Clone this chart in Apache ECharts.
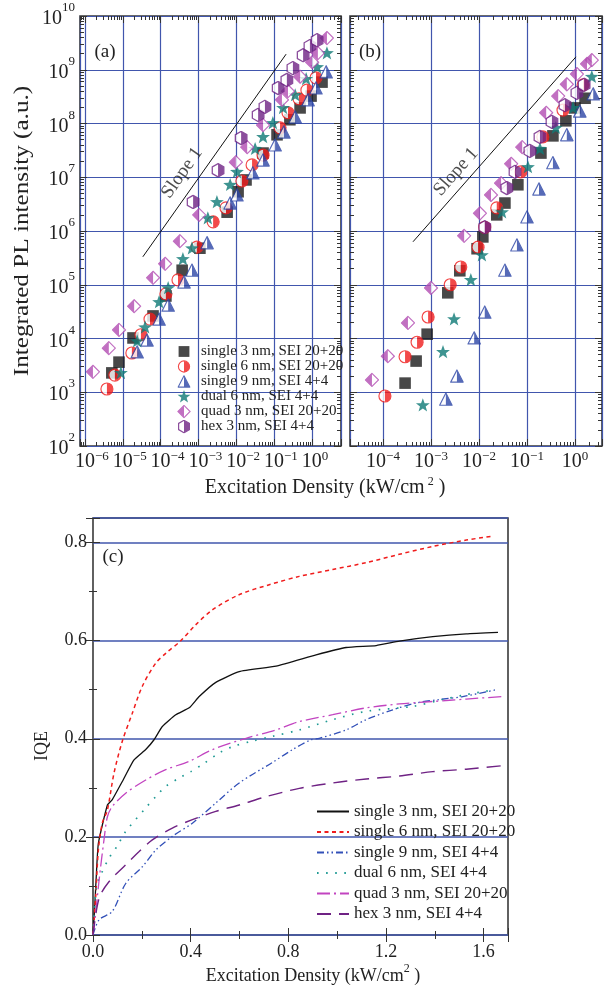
<!DOCTYPE html>
<html>
<head>
<meta charset="utf-8">
<script src="https://cdn.jsdelivr.net/npm/echarts@6/dist/echarts.min.js"></script>
<style>
  html, body { margin: 0; padding: 0; background: #fff; }
  #chart { width: 605px; height: 990px; }
</style>
</head>
<body>
<div id="chart"></div>
<script>
// values; panels (a)/(b) are stored as log10 exponents
const NAMES = ['single 3 nm, SEI 20+20', 'single 6 nm, SEI 20+20', 'single 9 nm, SEI 4+4',
  'dual 6 nm, SEI 4+4', 'quad 3 nm, SEI 20+20', 'hex 3 nm, SEI 4+4'];

// (a)
const aSingle3X = [-5.29, -5.10, -4.73, -4.20, -3.86, -3.43, -2.96, -2.24, -1.95, -1.74, -1.29, -0.92, -0.58, -0.31, -0.02, 0.27];
const aSingle3Y = [3.36, 3.56, 4.01, 4.42, 4.79, 5.27, 5.68, 6.35, 6.73, 6.95, 7.45, 7.79, 8.07, 8.29, 8.51, 8.77];
const aSingle6X = [-5.42, -5.21, -4.76, -4.52, -4.28, -3.86, -3.54, -3.04, -2.61, -2.27, -1.85, -1.58, -1.29, -0.84, -0.63, -0.34, -0.13, 0.11];
const aSingle6Y = [3.06, 3.32, 3.73, 4.07, 4.36, 4.83, 5.09, 5.70, 6.17, 6.43, 6.93, 7.23, 7.41, 7.92, 8.20, 8.46, 8.62, 8.85];
const aSingle9X = [-4.62, -4.36, -4.04, -3.80, -3.38, -3.17, -2.77, -2.16, -1.98, -1.56, -1.29, -0.97, -0.74, -0.44, -0.10, 0.11, 0.38];
const aSingle9Y = [3.75, 3.97, 4.36, 4.62, 5.05, 5.27, 5.78, 6.52, 6.67, 7.08, 7.32, 7.60, 7.84, 8.12, 8.44, 8.66, 8.96];
const aDual6X = [-5.05, -4.62, -4.41, -4.04, -3.80, -3.41, -3.17, -2.75, -2.51, -2.16, -1.98, -1.50, -1.29, -1.03, -0.76, -0.44, -0.15, 0.14, 0.40];
const aDual6Y = [3.36, 3.95, 4.21, 4.68, 4.94, 5.48, 5.68, 6.24, 6.54, 6.86, 7.10, 7.53, 7.75, 8.01, 8.29, 8.53, 8.83, 9.05, 9.31];
const aQuad3X = [-5.79, -5.37, -5.10, -4.70, -4.20, -3.88, -3.49, -2.98, -2.01, -1.71, -1.29, -0.79, -0.63, -0.31, 0.01, 0.16, 0.40];
const aQuad3Y = [3.38, 3.82, 4.16, 4.60, 5.13, 5.39, 5.81, 6.30, 7.28, 7.56, 7.97, 8.44, 8.60, 8.87, 9.14, 9.31, 9.59];
const aHex3X = [-3.14, -2.48, -1.87, -1.42, -1.24, -0.89, -0.66, -0.50, -0.23, -0.05, 0.14];
const aHex3Y = [6.54, 7.13, 7.73, 8.16, 8.31, 8.66, 8.81, 9.03, 9.27, 9.44, 9.55];
const aSlopeX = [-4.47, -0.68];
const aSlopeY = [5.52, 9.29];

// (b)
const bSingle3X = [-3.54, -3.31, -3.08, -2.65, -2.40, -2.04, -1.92, -1.63, -1.46, -1.19, -0.71, -0.46, -0.19, 0.00, 0.21];
const bSingle3Y = [3.17, 3.58, 4.08, 4.85, 5.26, 5.67, 5.89, 6.30, 6.52, 6.86, 7.45, 7.77, 8.05, 8.29, 8.47];
const bSingle6X = [-3.96, -3.54, -3.29, -3.06, -2.60, -2.38, -2.02, -1.88, -1.63, -1.13, -0.67, -0.25, 0.17];
const bSingle6Y = [2.93, 3.66, 3.93, 4.40, 5.00, 5.33, 5.70, 6.07, 6.43, 7.10, 7.75, 8.25, 8.72];
const bSingle9X = [-2.69, -2.46, -2.10, -1.88, -1.46, -1.21, -1.00, -0.75, -0.46, -0.17, 0.10, 0.38];
const bSingle9Y = [2.87, 3.30, 4.01, 4.49, 5.27, 5.74, 6.26, 6.78, 7.27, 7.79, 8.23, 8.55];
const bDual6X = [-3.17, -2.75, -2.52, -2.17, -1.94, -1.52, -0.98, -0.73, -0.40, -0.04, 0.35];
const bDual6Y = [2.76, 3.75, 4.36, 5.09, 5.55, 6.35, 7.19, 7.53, 7.92, 8.29, 8.87];
const bQuad3X = [-4.23, -3.90, -3.48, -3.00, -2.31, -1.98, -1.75, -1.54, -1.33, -1.10, -0.60, -0.35, -0.17, 0.04, 0.25, 0.35];
const bQuad3Y = [3.23, 3.67, 4.29, 4.94, 5.91, 6.33, 6.67, 6.89, 7.25, 7.56, 8.20, 8.51, 8.73, 8.92, 9.11, 9.18];
const bHex3X = [-1.88, -1.42, -1.25, -0.94, -0.73, -0.48, -0.21, 0.04, 0.19];
const bHex3Y = [6.07, 6.80, 7.10, 7.49, 7.75, 8.03, 8.34, 8.57, 8.72];
const bSlopeX = [-3.375, 0.02];
const bSlopeY = [5.80, 9.24];

// (c) IQE vs excitation density
const cSingle3X = [0, 0.007, 0.014, 0.022, 0.059, 0.079, 0.120, 0.168, 0.216, 0.250, 0.284, 0.339, 0.394, 0.435, 0.503, 0.599, 0.750, 0.914, 1.037, 1.160, 1.255, 1.392, 1.529, 1.659];
const cSingle3Y = [0, 0.058, 0.126, 0.187, 0.265, 0.276, 0.313, 0.357, 0.378, 0.398, 0.425, 0.449, 0.463, 0.486, 0.515, 0.537, 0.548, 0.571, 0.586, 0.590, 0.599, 0.608, 0.614, 0.617];
const cSingle6X = [0, 0.011, 0.022, 0.038, 0.059, 0.086, 0.120, 0.161, 0.202, 0.257, 0.300, 0.360, 0.420, 0.490, 0.600, 0.722, 0.845, 0.982, 1.119, 1.255, 1.392, 1.529, 1.638];
const cSingle6Y = [0, 0.078, 0.173, 0.228, 0.255, 0.330, 0.395, 0.452, 0.507, 0.554, 0.575, 0.600, 0.632, 0.663, 0.694, 0.714, 0.731, 0.745, 0.759, 0.776, 0.792, 0.805, 0.813];
const cSingle9X = [0, 0.025, 0.079, 0.134, 0.202, 0.257, 0.325, 0.407, 0.503, 0.599, 0.736, 0.818, 0.893, 0.927, 1.037, 1.119, 1.228, 1.324, 1.419, 1.515, 1.652];
const cSingle9Y = [0, 0.031, 0.048, 0.105, 0.139, 0.173, 0.201, 0.228, 0.269, 0.310, 0.352, 0.378, 0.398, 0.401, 0.418, 0.439, 0.459, 0.473, 0.480, 0.486, 0.500];
const cDual6X = [0, 0.014, 0.036, 0.066, 0.100, 0.134, 0.216, 0.257, 0.298, 0.353, 0.401, 0.455, 0.517, 0.572, 0.650, 0.736, 0.845, 0.982, 1.119, 1.310, 1.433, 1.529, 1.645];
const cDual6Y = [0, 0.099, 0.127, 0.157, 0.182, 0.211, 0.259, 0.282, 0.303, 0.320, 0.333, 0.350, 0.371, 0.384, 0.395, 0.405, 0.418, 0.439, 0.456, 0.466, 0.480, 0.490, 0.500];
const cQuad3X = [0, 0.011, 0.025, 0.045, 0.059, 0.079, 0.134, 0.216, 0.298, 0.394, 0.490, 0.627, 0.750, 0.845, 0.982, 1.119, 1.255, 1.392, 1.529, 1.679];
const cQuad3Y = [0, 0.045, 0.112, 0.194, 0.241, 0.262, 0.289, 0.316, 0.337, 0.354, 0.378, 0.401, 0.418, 0.435, 0.449, 0.463, 0.471, 0.476, 0.481, 0.486];
const cHex3X = [0, 0.025, 0.066, 0.134, 0.189, 0.243, 0.325, 0.407, 0.503, 0.599, 0.709, 0.845, 0.982, 1.119, 1.255, 1.392, 1.529, 1.673];
const cHex3Y = [0, 0.075, 0.109, 0.143, 0.170, 0.194, 0.218, 0.235, 0.252, 0.265, 0.282, 0.299, 0.310, 0.318, 0.324, 0.333, 0.338, 0.345];

const FONT = "'Liberation Serif', 'DejaVu Serif', serif";
const INK = '#222';
const FRAME = '#3a3a3a';
const GRID_BLUE = '#4156ad';

const RED = '#f01c1c', BLUE = '#2c45a6', TEAL = '#0f7a76', PINK = '#b24cb2', PURPLE = '#6f2284';

function svgSymbol(body) {
  const svg = "<svg xmlns='http://www.w3.org/2000/svg' width='28' height='28' viewBox='0 0 14 14'>" + body + '</svg>';
  return 'image://data:image/svg+xml;charset=utf-8,' + encodeURIComponent(svg);
}
function starPath(cx, cy, R, r) {
  let d = '';
  for (let i = 0; i < 10; i++) {
    const a = -Math.PI / 2 + i * Math.PI / 5, rad = i % 2 ? r : R;
    d += (i ? 'L' : 'M') + (cx + rad * Math.cos(a)).toFixed(2) + ' ' + (cy + rad * Math.sin(a)).toFixed(2);
  }
  return d + 'Z';
}
const SYMBOLS = [
  svgSymbol("<rect x='1.6' y='1.6' width='10.8' height='10.8' fill='#1b1b1b'/>"),
  svgSymbol("<circle cx='7' cy='7' r='5.6' fill='#fff' stroke='" + RED + "' stroke-width='1.1'/><path d='M7 1.4 A5.6 5.6 0 0 1 7 12.6 Z' fill='" + RED + "'/>"),
  svgSymbol("<path d='M7 1.2 L12.8 12.6 L1.2 12.6 Z' fill='#fff' stroke='" + BLUE + "' stroke-width='1.1' stroke-linejoin='round'/><path d='M7 1.2 L12.8 12.6 L7 12.6 Z' fill='" + BLUE + "'/>"),
  svgSymbol("<path d='" + starPath(7, 7.4, 6.8, 2.8) + "' fill='" + TEAL + "'/>"),
  svgSymbol("<path d='M7 0.9 L13.1 7 L7 13.1 L0.9 7 Z' fill='#fff' stroke='" + PINK + "' stroke-width='1.1'/><path d='M7 0.9 L0.9 7 L7 13.1 Z' fill='" + PINK + "'/>"),
  svgSymbol("<path d='M7 0.8 L12.4 3.9 L12.4 10.1 L7 13.2 L1.6 10.1 L1.6 3.9 Z' fill='#fff' stroke='" + PURPLE + "' stroke-width='1.2'/><path d='M7 0.8 L12.4 3.9 L12.4 10.1 L7 13.2 Z' fill='" + PURPLE + "'/>")
];

function logPairs(xs, ys) {
  return xs.map((x, i) => [Math.pow(10, x), Math.pow(10, ys[i])]);
}
function pairs(xs, ys) {
  return xs.map((x, i) => [x, ys[i]]);
}

function minorLogTicks(lo, hi) {
  const out = [];
  for (let e = Math.floor(lo); e < Math.ceil(hi); e++) {
    for (let d = 2; d <= 9; d++) {
      const v = d * Math.pow(10, e), l = Math.log10(v);
      if (l > lo && l < hi) out.push(v);
    }
  }
  return out;
}

// "10" sits low in a tall line box, the exponent hangs at its top;
// the taller the "10" box, the higher the exponent
function powRich(lineH) {
  return {
    b: { fontFamily: FONT, fontSize: 20, lineHeight: lineH, verticalAlign: 'bottom', color: INK },
    sup: { fontFamily: FONT, fontSize: 13, lineHeight: 13, verticalAlign: 'top', color: INK },
    pad: { fontFamily: FONT, fontSize: 13, lineHeight: 13, verticalAlign: 'top', color: 'rgba(0,0,0,0)' }
  };
}
function powLabel(centerBase) {
  return function (v) {
    const e = Math.log10(v), r = Math.round(e);
    if (Math.abs(e - r) > 1e-6) return '';
    const s = String(r).replace('-', '\u2212');
    return (centerBase ? '{pad|' + s + '}' : '') + '{b|10}{sup|' + s + '}';
  };
}

const TICK = { show: true, inside: true, length: 7, lineStyle: { color: '#333', width: 1 } };
const MINOR_TICK = { show: true, inside: true, length: 4, lineStyle: { color: '#333', width: 1 } };

function logAxis(grid, pos, lo, hi, extra) {
  return Object.assign({
    type: 'log', logBase: 10, gridIndex: grid, position: pos,
    min: Math.pow(10, lo), max: Math.pow(10, hi),
    axisLine: { show: false },
    axisTick: TICK,
    axisLabel: { show: false },
    splitLine: { show: false }
  }, extra || {});
}
function minorLogAxis(grid, pos, lo, hi) {
  return logAxis(grid, pos, lo, hi, {
    axisTick: Object.assign({ customValues: minorLogTicks(lo, hi) }, MINOR_TICK)
  });
}

const A_X = [-6.132, 0.772], B_X = [-4.6875, 0.5625], AB_Y = [2, 10];
const blueSplit = { show: true, lineStyle: { color: GRID_BLUE, width: 1.2 } };

const xAxes = [
  logAxis(0, 'bottom', A_X[0], A_X[1], {
    splitLine: blueSplit,
    axisLabel: { show: true, formatter: powLabel(true), rich: powRich(21), margin: 4.5 }
  }),
  logAxis(0, 'top', A_X[0], A_X[1]),
  minorLogAxis(0, 'bottom', A_X[0], A_X[1]),
  minorLogAxis(0, 'top', A_X[0], A_X[1]),
  logAxis(1, 'bottom', B_X[0], B_X[1], {
    splitLine: blueSplit,
    axisLabel: { show: true, formatter: powLabel(false), rich: powRich(21), margin: 4.5 }
  }),
  logAxis(1, 'top', B_X[0], B_X[1]),
  minorLogAxis(1, 'bottom', B_X[0], B_X[1]),
  minorLogAxis(1, 'top', B_X[0], B_X[1]),
  {
    type: 'value', gridIndex: 2, position: 'bottom', min: 0, max: 1.7, interval: 0.4,
    axisLine: { show: false }, axisTick: TICK,
    minorTick: Object.assign({ splitNumber: 2 }, MINOR_TICK),
    splitLine: { show: false },
    axisLabel: {
      fontFamily: FONT, fontSize: 18, color: INK, margin: 8,
      formatter: v => (Math.abs(v / 0.4 - Math.round(v / 0.4)) < 1e-6 ? v.toFixed(1) : '')
    }
  },
  {
    type: 'value', gridIndex: 2, position: 'top', min: 0, max: 1.7, interval: 0.4,
    axisLine: { show: false }, axisTick: TICK,
    minorTick: Object.assign({ splitNumber: 2 }, MINOR_TICK),
    splitLine: { show: false }, axisLabel: { show: false }
  }
];

const yAxes = [
  logAxis(0, 'left', AB_Y[0], AB_Y[1], {
    splitLine: blueSplit,
    axisLabel: { show: true, formatter: powLabel(false), rich: powRich(27.5), margin: 5, padding: [0, 0, 2, 0] }
  }),
  logAxis(0, 'right', AB_Y[0], AB_Y[1]),
  minorLogAxis(0, 'left', AB_Y[0], AB_Y[1]),
  minorLogAxis(0, 'right', AB_Y[0], AB_Y[1]),
  logAxis(1, 'left', AB_Y[0], AB_Y[1], { splitLine: blueSplit }),
  logAxis(1, 'right', AB_Y[0], AB_Y[1]),
  minorLogAxis(1, 'left', AB_Y[0], AB_Y[1]),
  minorLogAxis(1, 'right', AB_Y[0], AB_Y[1]),
  {
    type: 'value', gridIndex: 2, position: 'left', min: 0, max: 0.85, interval: 0.2,
    axisLine: { show: false }, axisTick: TICK,
    minorTick: Object.assign({ splitNumber: 2 }, MINOR_TICK),
    splitLine: { show: true, lineStyle: { color: GRID_BLUE, width: 1.5 } },
    axisLabel: {
      fontFamily: FONT, fontSize: 18, color: INK, margin: 6,
      formatter: v => (Math.abs(v / 0.2 - Math.round(v / 0.2)) < 1e-6 ? v.toFixed(1) : '')
    }
  },
  {
    type: 'value', gridIndex: 2, position: 'right', min: 0, max: 0.85, interval: 0.2,
    axisLine: { show: false }, axisTick: TICK,
    minorTick: Object.assign({ splitNumber: 2 }, MINOR_TICK),
    splitLine: { show: false }, axisLabel: { show: false }
  }
];

function scatter(name, idx, axis, xs, ys) {
  return {
    type: 'scatter', name: name, xAxisIndex: axis, yAxisIndex: axis,
    symbol: SYMBOLS[idx], symbolSize: 15,
    data: logPairs(xs, ys)
  };
}
function slope(axis, xs, ys, mid, angle) {
  return [
    {
      type: 'line', name: 'slope' + axis, xAxisIndex: axis, yAxisIndex: axis,
      symbol: 'none', lineStyle: { color: '#111', width: 1 }, data: logPairs(xs, ys), z: 1
    },
    {
      type: 'scatter', name: 'slopeText' + axis, xAxisIndex: axis, yAxisIndex: axis,
      symbol: 'circle', symbolSize: 1, itemStyle: { color: 'rgba(0,0,0,0)' },
      label: {
        show: true, position: 'inside', rotate: angle, formatter: 'Slope 1',
        fontFamily: FONT, fontSize: 19, color: INK
      },
      data: logPairs([mid[0]], [mid[1]])
    }
  ];
}

const C_STYLES = [
  { color: '#111', width: 1.3, type: 'solid' },
  { color: RED, width: 1.5, type: [4, 3.5] },
  { color: '#3250b8', width: 1.3, type: [7, 3, 1.5, 3, 1.5, 3] },
  { color: '#1f9a94', width: 1.7, type: [1.6, 7.5] },
  { color: '#c244c0', width: 1.3, type: [13, 4, 2, 4] },
  { color: PURPLE, width: 1.4, type: [14, 8] }
];
const cData = [
  [cSingle3X, cSingle3Y], [cSingle6X, cSingle6Y], [cSingle9X, cSingle9Y],
  [cDual6X, cDual6Y], [cQuad3X, cQuad3Y], [cHex3X, cHex3Y]
];
const cSeries = cData.map((d, i) => ({
  type: 'line', name: 'c:' + NAMES[i], xAxisIndex: 8, yAxisIndex: 8,
  symbol: 'none', smooth: i === 0 ? 0.15 : 0.3,
  lineStyle: C_STYLES[i], itemStyle: { color: C_STYLES[i].color },
  data: pairs(d[0], d[1])
}));

const aData = [[aSingle3X, aSingle3Y], [aSingle6X, aSingle6Y], [aSingle9X, aSingle9Y],
  [aDual6X, aDual6Y], [aQuad3X, aQuad3Y], [aHex3X, aHex3Y]];
const bData = [[bSingle3X, bSingle3Y], [bSingle6X, bSingle6Y], [bSingle9X, bSingle9Y],
  [bDual6X, bDual6Y], [bQuad3X, bQuad3Y], [bHex3X, bHex3Y]];

const series = [].concat(
  slope(0, aSlopeX, aSlopeY, [-3.43, 7.08], 54.7),
  slope(4, bSlopeX, bSlopeY, [-2.48, 7.10], 48.6),
  aData.map((d, i) => scatter(NAMES[i], i, 0, d[0], d[1])),
  bData.map((d, i) => scatter(NAMES[i], i, 4, d[0], d[1])),
  cSeries
);

const gridBox = { show: true, borderColor: FRAME, borderWidth: 1.6, backgroundColor: 'transparent' };
function titleRich(size) {
  return {
    b: { fontFamily: FONT, fontSize: size, lineHeight: 22, verticalAlign: 'bottom', fill: INK },
    sup: { fontFamily: FONT, fontSize: 12, lineHeight: 12, verticalAlign: 'top', fill: INK }
  };
}
function text(str, x, y, size, rotation, scaleX) {
  return {
    type: 'text', x: x, y: y, rotation: rotation || 0, scaleX: scaleX || 1,
    style: { text: str, fontFamily: FONT, fontSize: size, fill: INK, align: 'center', verticalAlign: 'middle' }
  };
}

const chart = echarts.init(document.getElementById('chart'), null, { renderer: 'canvas' });
chart.setOption({
  animation: false,
  backgroundColor: '#fff',
  grid: [
    Object.assign({ left: 80, top: 16, width: 261, height: 430 }, gridBox),
    Object.assign({ left: 350, top: 16, width: 252, height: 430 }, gridBox),
    Object.assign({ left: 93, top: 518, width: 415, height: 417 }, gridBox)
  ],
  xAxis: xAxes,
  yAxis: yAxes,
  legend: [
    {
      data: NAMES, orient: 'vertical', left: 167, top: 339,
      itemWidth: 24, itemHeight: 14, itemGap: 0,
      textStyle: { fontFamily: FONT, fontSize: 15, color: INK, lineHeight: 14 },
      selectedMode: false
    },
    {
      data: NAMES.map(n => 'c:' + n), orient: 'vertical', left: 311, top: 798,
      itemWidth: 32, itemHeight: 14, itemGap: 3.5,
      itemStyle: { opacity: 0 },
      formatter: n => n.slice(2),
      textStyle: { fontFamily: FONT, fontSize: 17, color: INK, lineHeight: 17 },
      selectedMode: false
    }
  ],
  graphic: [
    text('(a)', 105, 52, 19),
    text('(b)', 370, 52, 19),
    text('(c)', 113, 557, 19),
    text('Integrated PL intensity (a.u.)', 22, 231, 21, Math.PI / 2, 1.2),
    text('IQE', 42, 746, 18, Math.PI / 2),
    {
      type: 'text', x: 325, y: 487,
      style: { text: '{b|Excitation Density (kW/cm}{sup| 2}{b| )}', rich: titleRich(20), align: 'center', verticalAlign: 'middle' }
    },
    {
      type: 'text', x: 313, y: 974,
      style: { text: '{b|Excitation Density (kW/cm}{sup|2}{b| )}', rich: titleRich(18), align: 'center', verticalAlign: 'middle' }
    }
  ],
  series: series
});
</script>
</body>
</html>
